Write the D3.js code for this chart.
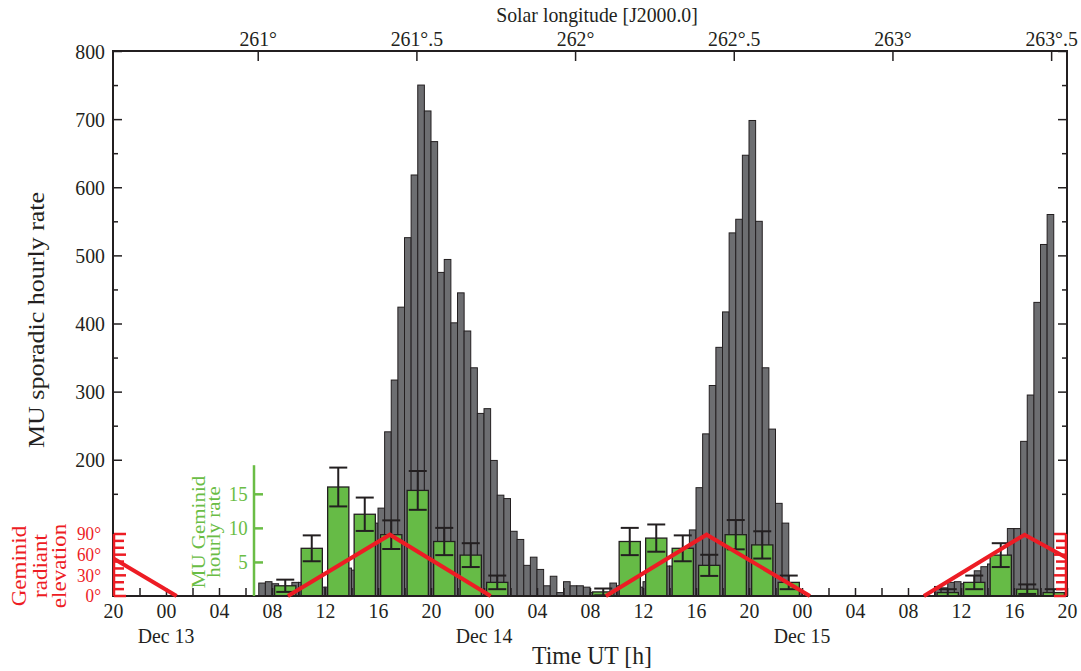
<!DOCTYPE html>
<html><head><meta charset="utf-8">
<script src="https://cdn.jsdelivr.net/npm/d3@7"></script>
<style>
body{margin:0;background:#fff}
svg{display:block}
text{font-family:"Liberation Serif","Times New Roman",serif}
</style>
</head><body>
<svg id="chart" width="1081" height="671"></svg>
<script>
// ---- DATA (hours counted from Dec 13 00:00 UT) ----
const sporadicStart = [7,7.5,8,8.5,9,9.5,10,10.5,11,11.5,12,12.5,13,13.5,14,14.5,15,15.5,16,16.5,17,17.5,18,18.5,19,19.5,20,20.5,21,21.5,22,22.5,23,23.5,24,24.5,25,25.5,26,26.5,27,27.5,28,28.5,29,29.5,30,30.5,31,31.5,32,32.5,33,33.5,34,34.5,35,35.5,36,36.5,37,37.5,38,38.5,39,39.5,40,40.5,41,41.5,42,42.5,43,43.5,44,44.5,45,45.5,46,46.5,47,47.5,58,58.5,59,59.5,60,60.5,61,61.5,62,62.5,63,63.5,64,64.5,65,65.5,66,66.5];
const sporadicRate = [19,21,18,12,14,20,20,18,16,13,13,25,30,41,38,60,85,107,129,241,317,424,526,618,750,712,667,475,494,401,445,389,335,268,275,199,148,143,95,83,45,57,39,15,29,5,21,15,15,13,5,4,5,19,15,20,20,13,21,30,35,44,44,55,65,97,159,238,309,365,417,533,553,647,698,550,335,245,136,107,15,5,14,12,20,21,18,15,37,43,47,50,55,99,99,227,295,431,516,560];

const geminidCenter = [9,11,13,15,17,19,21,23,25,33,35,37,39,41,43,45,47,59,61,63,65,67];
const geminidRate   = [1.5,7.0,16.0,12.0,9.0,15.5,8.0,6.0,2.0,0.6,8.0,8.5,7.0,4.5,9.0,7.5,2.0,0.5,2.0,6.0,1.0,0.5];
const geminidError  = [0.9,1.9,2.85,2.45,2.1,2.85,2.0,1.75,1.0,0.5,2.0,2.0,1.9,1.55,2.15,2.0,1.0,0.5,1.0,1.75,0.7,0.5];

const elevHour = [-4,0.8,9.2,16.9,24.5,33.2,40.8,48.6,57.2,64.8,68];
const elevDeg  = [55,0,0,89,0,0,89,0,0,89,55];

const hourTicks = [-4,0,4,8,12,16,20,24,28,32,36,40,44,48,52,56,60,64,68];
const hourMinorTicks = [-2,2,6,10,14,18,22,26,30,34,38,42,46,50,54,58,62,66];
const dayLabels = ["Dec 13","Dec 14","Dec 15"];
const dayLabelHours = [0,24,48];
const lonTicks = [261,261.5,262,262.5,263,263.5];
const lonDomain = [260.544,263.550];
const sporadicTicks = [200,300,400,500,600,700,800];
const sporadicMinorTicks = [150,250,350,450,550,650,750];
const geminidTicks = [5,10,15];
const geminidAxisTop = 19.2;
const elevTicks = [0,30,60,90];
const elevMinorTicks = [10,20,40,50,70,80];

// ---- LAYOUT ----
const L=113, R=1067, T=51, B=596;
const RED="#ed1c24", GREEN="#6abd45", INK="#231f20";
const SX=0.9; // horizontal squeeze of the serif type
const svg = d3.select("#chart");

const x = d3.scaleLinear().domain([-4,68]).range([L,R]);
const ySpo = d3.scaleLinear().domain([0,800]).range([B,T]);
const yGem = d3.scaleLinear().domain([0,80]).range([B,T]);
const yElev = d3.scaleLinear().domain([0,90]).range([B,534]);
const xLon = d3.scaleLinear().domain(lonDomain).range([L,R]);

// ---- sporadic bars ----
const spo = sporadicStart.map((s,i)=>({s, v:sporadicRate[i]}));
svg.append("g").selectAll("rect").data(spo).join("rect")
  .attr("x", d=>x(d.s)).attr("width", d=>x(d.s+0.5)-x(d.s))
  .attr("y", d=>ySpo(d.v)).attr("height", d=>ySpo(0)-ySpo(d.v))
  .attr("fill","#6d6e71").attr("stroke",INK).attr("stroke-width",1);

// ---- geminid bars ----
const gem = geminidCenter.map((c,i)=>({c, v:geminidRate[i], e:geminidError[i]}));
svg.append("g").selectAll("rect").data(gem).join("rect")
  .attr("x", d=>x(d.c-0.8)).attr("width", d=>x(d.c+0.8)-x(d.c-0.8))
  .attr("y", d=>yGem(d.v)).attr("height", d=>yGem(0)-yGem(d.v))
  .attr("fill","#66bb46").attr("stroke",INK).attr("stroke-width",1.3);

const eg = svg.append("g").attr("stroke",INK).attr("stroke-width",2);
gem.forEach(d=>{
  const cx=x(d.c), lo=yGem(Math.max(0,d.v-d.e)), hi=yGem(d.v+d.e);
  eg.append("line").attr("x1",cx).attr("x2",cx).attr("y1",lo).attr("y2",hi);
  eg.append("line").attr("x1",cx-9).attr("x2",cx+9).attr("y1",hi).attr("y2",hi);
  eg.append("line").attr("x1",cx-9).attr("x2",cx+9).attr("y1",lo).attr("y2",lo);
});

// ---- axes ----
function styleAxis(g){
  g.select(".domain").remove();
  g.selectAll(".tick line").attr("stroke",INK).attr("stroke-width",1.5);
  g.selectAll("text").attr("font-family","Liberation Serif").attr("font-size",22).attr("fill",INK)
    .attr("transform",`scale(${SX},1)`);
}
// bottom
svg.append("g").attr("transform",`translate(0,${B})`)
  .call(d3.axisBottom(x).tickValues(hourTicks).tickSize(-8).tickPadding(6)
    .tickFormat(h=>String(((h%24)+24)%24).padStart(2,"0")))
  .call(styleAxis);
svg.append("g").attr("transform",`translate(0,${B})`)
  .call(d3.axisBottom(x).tickValues(hourMinorTicks).tickSize(-8).tickFormat(""))
  .call(styleAxis);
// top
svg.append("g").attr("transform",`translate(0,${T})`)
  .call(d3.axisTop(xLon).tickValues(lonTicks).tickSize(-10).tickPadding(5)
    .tickFormat(d=> d%1===0 ? d+"°" : Math.floor(d)+"°.5"))
  .call(styleAxis);
// left
svg.append("g").attr("transform",`translate(${L},0)`)
  .call(d3.axisLeft(ySpo).tickValues(sporadicTicks).tickSize(-9).tickPadding(9))
  .call(styleAxis);
svg.append("g").attr("transform",`translate(${L},0)`)
  .call(d3.axisLeft(ySpo).tickValues(sporadicMinorTicks).tickSize(-5).tickFormat(""))
  .call(styleAxis);
// right
svg.append("g").attr("transform",`translate(${R},0)`)
  .call(d3.axisRight(ySpo).tickValues(sporadicTicks).tickSize(-9).tickFormat(""))
  .call(styleAxis);
svg.append("g").attr("transform",`translate(${R},0)`)
  .call(d3.axisRight(ySpo).tickValues(sporadicMinorTicks).tickSize(-5).tickFormat(""))
  .call(styleAxis);
// frame
svg.append("rect").attr("x",L).attr("y",T).attr("width",R-L).attr("height",B-T)
  .attr("fill","none").attr("stroke",INK).attr("stroke-width",2);

// green axis
const gAxisX = 254;
const gax = svg.append("g").attr("transform",`translate(${gAxisX},0)`)
  .call(d3.axisLeft(yGem).tickValues(geminidTicks).tickSize(-9).tickPadding(7));
gax.select(".domain").remove();
gax.selectAll(".tick line").attr("stroke",GREEN).attr("stroke-width",2.5);
gax.selectAll("text").attr("font-family","Liberation Serif").attr("font-size",21).attr("fill",GREEN)
  .attr("transform",`scale(${SX},1)`);
gax.append("line").attr("x1",0).attr("x2",0).attr("y1",yGem(0)).attr("y2",yGem(geminidAxisTop))
  .attr("stroke",GREEN).attr("stroke-width",2.5);

// ---- red elevation line ----
svg.append("clipPath").attr("id","clip").append("rect")
  .attr("x",L).attr("y",T).attr("width",R-L).attr("height",B-T+4);
const segs=[]; let cur=null;
for(let i=0;i<elevHour.length-1;i++){
  const a=[elevHour[i],elevDeg[i]], b=[elevHour[i+1],elevDeg[i+1]];
  if(a[1]===0 && b[1]===0){ if(cur){segs.push(cur);cur=null;} continue; }
  if(!cur) cur=[a];
  cur.push(b);
}
if(cur) segs.push(cur);
const line = d3.line().x(d=>x(d[0])).y(d=>yElev(d[1]));
svg.append("g").attr("clip-path","url(#clip)").selectAll("path").data(segs).join("path")
  .attr("d",line).attr("fill","none").attr("stroke",RED).attr("stroke-width",4)
  .attr("stroke-linejoin","miter");

// red elevation axes (left & right)
function redAxis(x0, dir){
  const g = svg.append("g").attr("stroke",RED);
  g.append("line").attr("x1",x0).attr("x2",x0).attr("y1",yElev(0)).attr("y2",yElev(90)).attr("stroke-width",2.5);
  elevTicks.forEach(v=>g.append("line").attr("x1",x0).attr("x2",x0+dir*12).attr("y1",yElev(v)).attr("y2",yElev(v)).attr("stroke-width",2.5));
  elevMinorTicks.forEach(v=>g.append("line").attr("x1",x0).attr("x2",x0+dir*10).attr("y1",yElev(v)).attr("y2",yElev(v)).attr("stroke-width",2.5));
}
redAxis(L+1, 1);
redAxis(R-1, -1);
svg.append("g").selectAll("text").data(elevTicks).join("text")
  .attr("transform",v=>`translate(101,${yElev(v)}) scale(${SX},1)`).attr("dy","0.33em")
  .attr("text-anchor","end").attr("font-size",19).attr("fill",RED)
  .text(v=>v+"°");

// ---- texts ----
svg.append("g").selectAll("text").data(dayLabels).join("text")
  .attr("transform",(d,i)=>`translate(${x(dayLabelHours[i])},643) scale(${SX},1)`)
  .attr("text-anchor","middle").attr("font-size",22).attr("fill",INK).text(d=>d);
svg.append("text").attr("transform",`translate(592,664) scale(0.95,1)`).attr("text-anchor","middle")
  .attr("font-size",25).attr("fill",INK).text("Time UT [h]");
svg.append("text").attr("transform",`translate(597,22) scale(${SX},1)`).attr("text-anchor","middle")
  .attr("font-size",22).attr("fill",INK).text("Solar longitude [J2000.0]");
svg.append("text").attr("transform",`translate(44,320) scale(${SX},1) rotate(-90)`).attr("text-anchor","middle")
  .attr("font-size",26).attr("fill",INK).text("MU sporadic hourly rate");

[["Geminid",26],["radiant",47],["elevation",66]].forEach(([t,bx])=>{
  svg.append("text").attr("transform",`translate(${bx},566) scale(${SX},1) rotate(-90)`).attr("text-anchor","middle")
    .attr("font-size",23).attr("fill",RED).text(t);
});
[["MU Geminid",205],["hourly rate",220]].forEach(([t,bx])=>{
  svg.append("text").attr("transform",`translate(${bx},532) scale(${SX},1) rotate(-90)`).attr("text-anchor","middle")
    .attr("font-size",21).attr("fill",GREEN).text(t);
});
</script>
</body></html>
